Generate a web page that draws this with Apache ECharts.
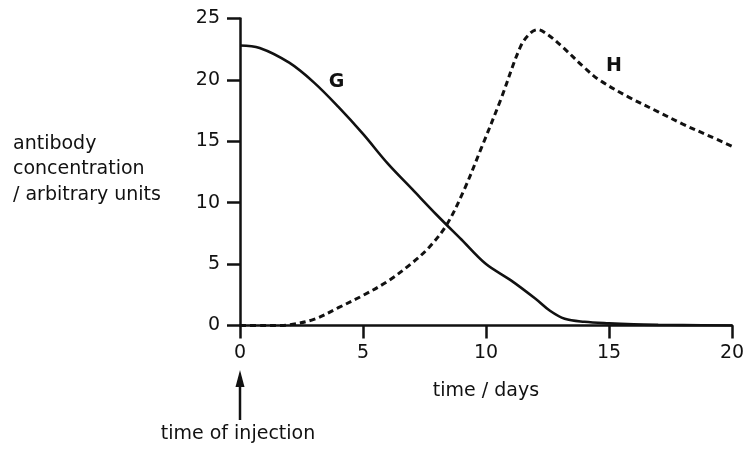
<!DOCTYPE html>
<html>
<head>
<meta charset="utf-8">
<script src="https://cdn.jsdelivr.net/npm/echarts@6/dist/echarts.min.js"></script>
<style>
  html, body { margin: 0; padding: 0; background: #fff; }
  #main { width: 748px; height: 450px; }
</style>
</head>
<body>
<div id="main"></div>
<script>
// G: solid line (days, concentration)
const gDays   = [0, 0.8, 2, 3, 4, 5, 6, 7, 8, 9, 10, 11, 12, 12.6, 13.2, 14, 15, 16, 17, 18, 20];
const gValues = [22.8, 22.6, 21.4, 19.8, 17.8, 15.6, 13.2, 11.1, 9.0, 7.0, 5.0, 3.7, 2.2, 1.2, 0.55, 0.3, 0.17, 0.09, 0.05, 0.03, 0];

// H: dashed line
const hDays   = [0, 1, 1.6, 2, 3, 4, 5, 6, 7, 7.7, 8.4, 9.1, 9.8, 10.6, 11.4, 11.8, 12.1, 12.5, 13.1, 14, 14.6, 15.8, 17, 18, 19, 20];
const hValues = [0, 0, 0, 0.05, 0.5, 1.45, 2.45, 3.6, 5.1, 6.4, 8.2, 11.0, 14.4, 18.4, 22.7, 23.8, 24.1, 23.7, 22.7, 21.0, 20.0, 18.6, 17.4, 16.4, 15.5, 14.6];

const curveLabels = [
  { name: 'G', coord: [3.92, 19.85] },
  { name: 'H', coord: [15.2, 21.1] }
];

const yAxisTitle = 'antibody\nconcentration\n/ arbitrary units';
const xAxisTitle = 'time / days';
const injectionText = 'time of injection';

const ink = '#111';
const font = 'DejaVu Sans';

const zip = (xs, ys) => xs.map((x, i) => [x, ys[i]]);

const chart = echarts.init(document.getElementById('main'));

chart.setOption({
  animation: false,
  backgroundColor: '#fff',
  grid: { left: 240, right: 16, top: 18.5, bottom: 124.5 },
  xAxis: {
    type: 'value',
    min: 0,
    max: 20,
    interval: 5,
    name: xAxisTitle,
    nameLocation: 'middle',
    nameGap: 56,
    nameTextStyle: { color: ink, fontSize: 19, fontFamily: font },
    axisLine: { lineStyle: { color: ink, width: 2.5 } },
    axisTick: { length: 13, lineStyle: { color: ink, width: 2.5 } },
    axisLabel: { color: ink, fontSize: 19, fontFamily: font, margin: 18 },
    splitLine: { show: false }
  },
  yAxis: {
    type: 'value',
    min: 0,
    max: 25,
    interval: 5,
    axisLine: { show: true, lineStyle: { color: ink, width: 2.5 } },
    axisTick: { show: true, length: 13, lineStyle: { color: ink, width: 2.5 } },
    axisLabel: { color: ink, fontSize: 19, fontFamily: font, margin: 20 },
    splitLine: { show: false }
  },
  series: [
    {
      name: 'G',
      type: 'line',
      data: zip(gDays, gValues),
      smooth: 0.35,
      symbol: 'none',
      lineStyle: { color: ink, width: 2.6 },
      markPoint: {
        symbol: 'circle',
        symbolSize: 0,
        label: { show: true, position: 'inside', formatter: '{b}', color: ink, fontSize: 19, fontWeight: 'bold', fontFamily: font },
        data: [curveLabels[0]]
      }
    },
    {
      name: 'H',
      type: 'line',
      data: zip(hDays, hValues),
      smooth: 0.35,
      symbol: 'none',
      lineStyle: { color: ink, width: 3, type: [6, 4] },
      markPoint: {
        symbol: 'circle',
        symbolSize: 0,
        label: { show: true, position: 'inside', formatter: '{b}', color: ink, fontSize: 19, fontWeight: 'bold', fontFamily: font },
        data: [curveLabels[1]]
      }
    }
  ]
});

// annotations: y-axis title, injection arrow and its caption
const x0 = chart.convertToPixel({ gridIndex: 0 }, [0, 0])[0];

chart.setOption({
  graphic: [
    {
      type: 'text',
      left: 13,
      top: 131,
      style: { text: yAxisTitle, fill: ink, fontSize: 19, fontFamily: font, lineHeight: 25.5 }
    },
    {
      type: 'line',
      shape: { x1: x0, y1: 420, x2: x0, y2: 384 },
      style: { stroke: ink, lineWidth: 2.5 }
    },
    {
      type: 'polygon',
      shape: { points: [[x0 - 4.5, 387], [x0 + 4.5, 387], [x0, 370]] },
      style: { fill: ink }
    },
    {
      type: 'text',
      x: x0 - 2,
      y: 434,
      style: { text: injectionText, fill: ink, fontSize: 19, fontFamily: font, align: 'center', verticalAlign: 'middle' }
    }
  ]
});
</script>
</body>
</html>
